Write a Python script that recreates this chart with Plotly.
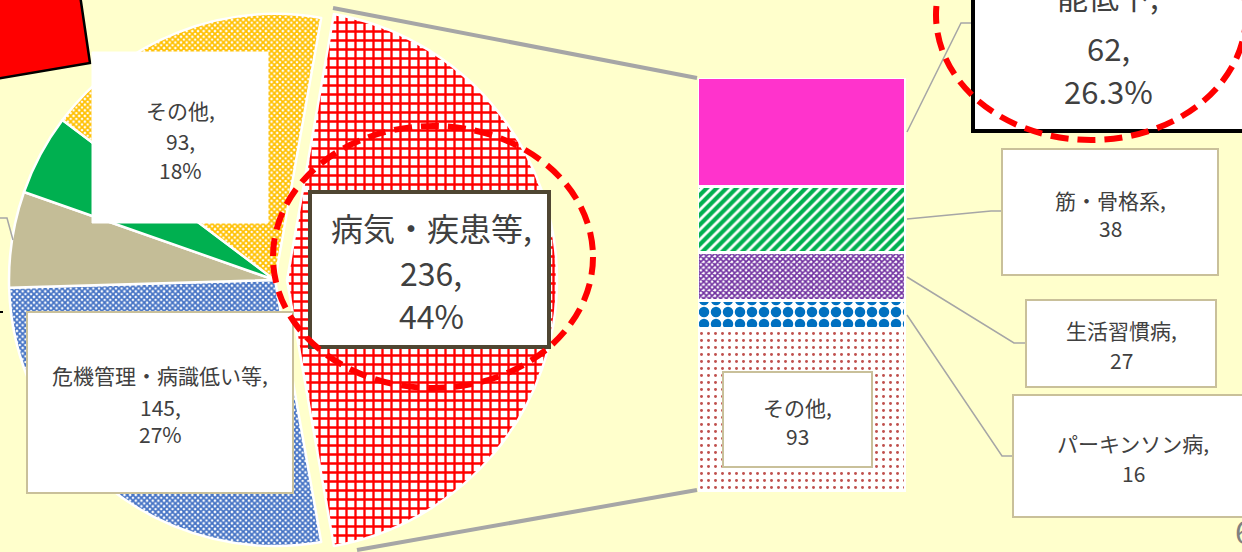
import plotly.graph_objects as go

W, H = 1242, 552
BG = "#FFFFCC"
FONT = "Noto Sans CJK JP"
TXT = "#404040"
GRAY = "#A6A6A6"
TAN = "#C9C09A"

# ---------------- data ----------------
pie_labels = ["病気・疾患等", "危機管理・病識低い等", "分類C", "分類D", "その他"]
pie_values = [236, 145, 31, 26, 93]
pie_colors = ["#FF0000", "#4472C4", "#C4BD97", "#00B050", "#FFC000"]

bar_labels = ["その他", "パーキンソン病", "生活習慣病", "筋・骨格系", "能低下"]
bar_values = [93, 16, 27, 38, 62]
bar_colors = ["#C0504D", "#0070C0", "#7030A0", "#00B050", "#FF33CC"]

page_number = "6"

# ---------------- helpers ----------------
def px(x):
    return x / W

def py(y):
    return 1 - y / H

pie_total = sum(pie_values)
bar_total = sum(bar_values)
pie_pct = [round(v / pie_total * 100) for v in pie_values]
bar_pct = [v / bar_total * 100 for v in bar_values]

# pattern style per pie slice (style only)
pie_pat_shape = ["+", "x", "", "", "x"]
pie_pat_size = [9, 4, 8, 8, 4]
pie_pat_sol = [0.45, 0.7, 0.3, 0.3, 0.7]

NONE = "rgba(0,0,0,0)"
rotation = 90 - pie_values[0] / pie_total * 180

fig = go.Figure()

def pie_trace(show_first, dom_x, dom_y):
    vis = [(i == 0) == show_first for i in range(len(pie_values))]
    return go.Pie(
        labels=pie_labels,
        values=pie_values,
        sort=False,
        direction="clockwise",
        rotation=rotation,
        textinfo="none",
        hoverinfo="label+value+percent",
        showlegend=False,
        domain=dict(x=[px(dom_x[0]), px(dom_x[1])], y=[py(dom_y[1]), py(dom_y[0])]),
        marker=dict(
            colors=[c if v else NONE for c, v in zip(pie_colors, vis)],
            line=dict(color=["white" if v else NONE for v in vis], width=2.5),
            pattern=dict(
                shape=[s if v else "" for s, v in zip(pie_pat_shape, vis)],
                fgcolor=[c if v else NONE for c, v in zip(pie_colors, vis)],
                bgcolor=["white" if (v and s) else NONE for s, v in zip(pie_pat_shape, vis)],
                fgopacity=1,
                size=pie_pat_size,
                solidity=pie_pat_sol,
            ),
        ),
    )

# other slices (centre 275,280  r 266)
fig.add_trace(pie_trace(False, (9, 541), (14, 546)))
# separated main slice (centre 287,280 r 270)
fig.add_trace(pie_trace(True, (17, 557), (10, 550)))

# stacked bar
bar_pat = [
    dict(shape=".", size=7, solidity=0.14, fgcolor=bar_colors[0], bgcolor="white", fgopacity=1),
    dict(shape=".", size=12, solidity=0.6, fgcolor=bar_colors[1], bgcolor="white", fgopacity=1),
    dict(shape="x", size=4, solidity=0.65, fgcolor=bar_colors[2], bgcolor="white", fgopacity=1),
    dict(shape="/", size=7, solidity=0.6, fgcolor=bar_colors[3], bgcolor="white", fgopacity=1),
    dict(shape=""),
]
for i, (lab, val) in enumerate(zip(bar_labels, bar_values)):
    fig.add_trace(go.Bar(
        x=[0], y=[val], name=lab, width=1,
        marker=dict(color=bar_colors[i], line=dict(color="white", width=3), pattern=bar_pat[i]),
        showlegend=False, hoverinfo="name+y",
    ))

shapes = []
annotations = []

def line(pts, color=GRAY, width=1.5, layer="above"):
    path = "M " + " L ".join(f"{px(x)},{py(y)}" for x, y in pts)
    shapes.append(dict(type="path", xref="paper", yref="paper", path=path,
                       line=dict(color=color, width=width), layer=layer))

def box(x0, y0, x1, y1, border=TAN, bw=2):
    shapes.append(dict(type="rect", xref="paper", yref="paper",
                       x0=px(x0), x1=px(x1), y0=py(y1), y1=py(y0),
                       fillcolor="white", line=dict(color=border, width=bw), layer="above"))

def text(cx, ys, lines, size):
    for y, t in zip(ys, lines):
        annotations.append(dict(x=px(cx), y=py(y), xref="paper", yref="paper", text=t,
                                showarrow=False, xanchor="center", yanchor="middle",
                                font=dict(family=FONT, size=size, color=TXT)))

# connector lines pie -> bar
line([(333, 8), (697, 78)], width=4, layer="below")
line([(357, 550), (697, 490)], width=4, layer="below")

# red callout at top-left
shapes.append(dict(type="path", xref="paper", yref="paper",
                   path=f"M {px(-5)},{py(-5)} L {px(80)},{py(-5)} L {px(90)},{py(63)} L {px(-5)},{py(79)} Z",
                   fillcolor="#FF0000", line=dict(color="black", width=2.5), layer="above"))
# small leader lines at left edge
line([(0, 218), (7, 218), (13, 240)])
line([(0, 312), (3, 312)], color="black", width=2)

# bar leader lines
line([(907, 132), (961, 23), (973, 23)])
line([(907, 219), (991, 211), (1002, 211)])
line([(907, 277), (1014, 343), (1026, 343)])
line([(907, 315), (1002, 456), (1013, 456)])

# pie labels
box(92, 52, 268, 223, border="white", bw=1)
text(180, [110, 141, 170], [f"{pie_labels[4]},", f"{pie_values[4]},", f"{pie_pct[4]}%"], 21)
box(27, 312, 293, 493)
text(160, [375, 407, 434], [f"{pie_labels[1]},", f"{pie_values[1]},", f"{pie_pct[1]}%"], 21)
box(310, 192, 549, 347, border="#4F4632", bw=4)
text(431, [227, 272, 315], [f"{pie_labels[0]},", f"{pie_values[0]},", f"{pie_pct[0]}%"], 32)

# bar labels
box(1002, 149, 1218, 275)
text(1110, [200, 228], [f"{bar_labels[3]},", f"{bar_values[3]}"], 21)
box(1026, 300, 1216, 387)
text(1121, [330, 360], [f"{bar_labels[2]},", f"{bar_values[2]}"], 21)
box(1013, 395, 1260, 517)
text(1133, [443, 473], [f"{bar_labels[1]},", f"{bar_values[1]}"], 21)
box(723, 372, 872, 467)
text(797, [407, 436], [f"{bar_labels[0]},", f"{bar_values[0]}"], 21)
box(973, -20, 1260, 131, border="black", bw=4)
text(1108, [-4, 47, 90], [f"{bar_labels[4]},", f"{bar_values[4]},", f"{bar_pct[4]:.1f}%"], 31)

# red dashed highlight ellipses
for (x0, y0, x1, y1) in [(273, 126, 593, 388), (936, -110, 1246, 140)]:
    shapes.append(dict(type="circle", xref="paper", yref="paper",
                       x0=px(x0), x1=px(x1), y0=py(y1), y1=py(y0),
                       line=dict(color="#FF0000", width=6, dash="18px,9px"), layer="above"))

# page number
annotations.append(dict(x=px(1233), y=py(530), xref="paper", yref="paper", text=page_number,
                        showarrow=False, xanchor="left", yanchor="middle",
                        font=dict(family=FONT, size=32, color="#808080")))

fig.update_layout(
    width=W, height=H,
    margin=dict(l=0, r=0, t=0, b=0),
    paper_bgcolor=BG, plot_bgcolor="rgba(0,0,0,0)",
    barmode="stack", bargap=0,
    xaxis=dict(domain=[px(698), px(906)], range=[-0.5, 0.5], visible=False, fixedrange=True),
    yaxis=dict(domain=[py(492), py(78)], range=[0, bar_total], visible=False, fixedrange=True),
    shapes=shapes,
    annotations=annotations,
)

fig.write_html("out.html", config={"displayModeBar": False},
               post_script="document.body.style.margin='0';document.body.style.overflow='hidden';")
